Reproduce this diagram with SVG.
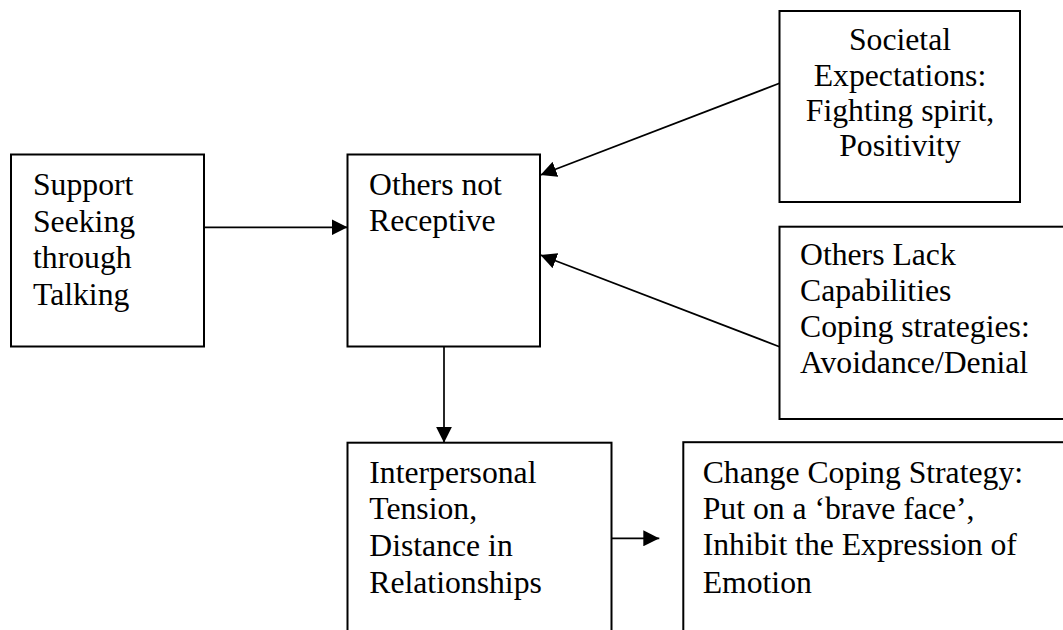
<svg xmlns="http://www.w3.org/2000/svg" width="1063" height="630" viewBox="0 0 1063 630">
<style>
.box{fill:#fff;stroke:#000;stroke-width:2}
.t{font-family:"Liberation Serif","Times New Roman",serif;font-size:31.7px;fill:#000}
.c{stroke:#000;stroke-width:1.7;fill:none}
</style>
<defs>
<marker id="ah" markerUnits="userSpaceOnUse" markerWidth="16" markerHeight="16" refX="16" refY="8" orient="auto" viewBox="0 0 16 16">
<path d="M0,0 L16,8 L0,16 z" fill="#000"/>
</marker>
</defs>
<rect width="1063" height="630" fill="#fff"/>
<g id="n1">
<rect class="box" x="11" y="154.5" width="193" height="192"/>
<text class="t" x="33" y="195">Support</text>
<text class="t" x="33" y="231.7">Seeking</text>
<text class="t" x="33" y="268.3">through</text>
<text class="t" x="33" y="305">Talking</text>
</g>
<g id="n2">
<rect class="box" x="347.5" y="154.5" width="192.5" height="192"/>
<text class="t" x="369" y="194.5">Others not</text>
<text class="t" x="369" y="231">Receptive</text>
</g>
<g id="n3">
<rect class="box" x="779.5" y="11" width="240.5" height="191"/>
<text class="t" x="900" y="50" text-anchor="middle">Societal</text>
<text class="t" x="900" y="86" text-anchor="middle">Expectations:</text>
<text class="t" x="900" y="121" text-anchor="middle">Fighting spirit,</text>
<text class="t" x="900" y="156" text-anchor="middle">Positivity</text>
</g>
<g id="n4">
<rect class="box" x="779.5" y="226.7" width="300" height="192.3"/>
<text class="t" x="800" y="265">Others Lack</text>
<text class="t" x="800" y="301">Capabilities</text>
<text class="t" x="800" y="337.3">Coping strategies:</text>
<text class="t" x="800" y="373.3">Avoidance/Denial</text>
</g>
<g id="n5">
<rect class="box" x="347.5" y="442.7" width="264" height="200"/>
<text class="t" x="369.3" y="482.7">Interpersonal</text>
<text class="t" x="369.3" y="519.3">Tension,</text>
<text class="t" x="369.3" y="556.3">Distance in</text>
<text class="t" x="369.3" y="593.3">Relationships</text>
</g>
<g id="n6">
<rect class="box" x="683.3" y="442.2" width="400" height="200"/>
<text class="t" x="702.7" y="482.7">Change Coping Strategy:</text>
<text class="t" x="702.7" y="518.7">Put on a ‘brave face’,</text>
<text class="t" x="702.7" y="555.3">Inhibit the Expression of</text>
<text class="t" x="702.7" y="593.3">Emotion</text>
</g>
<g id="connectors">
<line class="c" x1="204" y1="227.3" x2="347.5" y2="227.3" marker-end="url(#ah)"/>
<line class="c" x1="779.5" y1="83.3" x2="540.5" y2="175" marker-end="url(#ah)"/>
<line class="c" x1="779.5" y1="346.7" x2="540.5" y2="255" marker-end="url(#ah)"/>
<line class="c" x1="444" y1="347" x2="444" y2="442.7" marker-end="url(#ah)"/>
<line class="c" x1="611.7" y1="538.3" x2="659.3" y2="538.3" marker-end="url(#ah)"/>
</g>
</svg>
